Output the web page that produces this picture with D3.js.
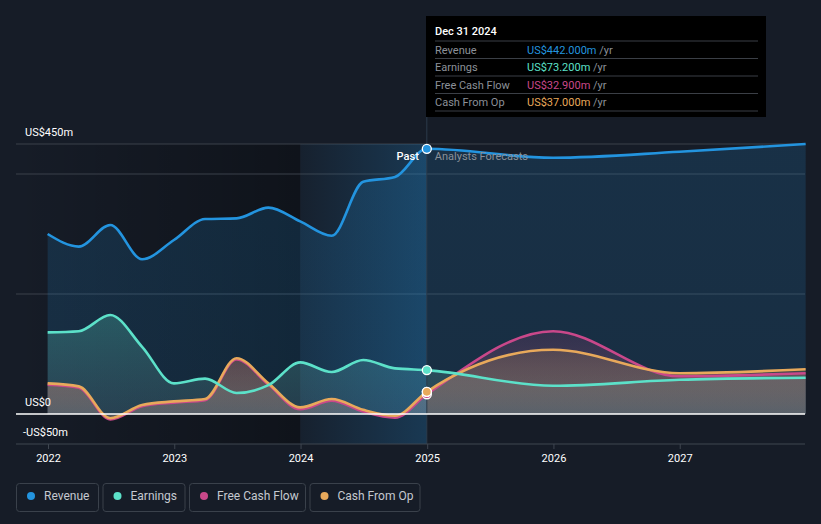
<!DOCTYPE html>
<html><head><meta charset="utf-8">
<script src="https://cdn.jsdelivr.net/npm/d3@7"></script>
<style>
html,body{margin:0;padding:0;background:#161c27;}
svg{display:block;font-family:Roboto,"Noto Sans",sans-serif;}
</style></head><body>
<svg id="c" width="821" height="524"></svg>
<script>
// ---- data ----
const pastDates = ["2021-12-31","2022-03-31","2022-06-30","2022-09-30","2022-12-31","2023-03-31","2023-06-30","2023-09-30","2023-12-31","2024-03-31","2024-06-30","2024-09-30","2024-12-31"];
const foreDates = ["2024-12-31","2025-12-31","2026-12-31","2027-12-31"];
const revenuePast  = [300,279,315,258,290,325,326,344,321,297,387,395,442];
const earningsPast = [136,138,165,112,51,59,35,48,86,70,90,76,73.2];
const fcfPast      = [49,44,-9,13,19,23,91,49,8,22,4,-6,32.9];
const cfoPast      = [51,46,-7,15,21,25,93,51,11,25,7,-3,37];
const revenueFore  = [442,427,437,450];
const earningsFore = [73.2,47,57,60.5];
const fcfFore      = [32.9,138,63,68];
const cfoFore      = [37,107,68,74.5];
const yearTicks = ["2022","2023","2024","2025","2026","2027"];
const gridValues = [200,400,450];
const yLabels = [{v:450,t:"US$450m"},{v:0,t:"US$0"},{v:-50,t:"-US$50m"}];
const seriesNames = ["Revenue","Earnings","Free Cash Flow","Cash From Op"];
const seriesColors = ["#2394df","#5ce1c9","#c9488a","#e8a95b"];
const tipValues = ["US$442.000m","US$73.200m","US$32.900m","US$37.000m"];
const tipDate = "Dec 31 2024";
const nowDate = "2024-12-31";

// ---- setup ----
const svg = d3.select("#c");
const parse = d3.timeParse("%Y-%m-%d");
const x = d3.scaleTime().domain([new Date(2022,0,1), new Date(2028,0,1)]).range([48,806]);
const y = d3.scaleLinear().domain([-50,450]).range([444,144]);
const L = 16, R = 805;
const xNow = x(parse(nowDate));

const mk = (dates, vals) => dates.map((d,i)=>({d:parse(d), v:vals[i]}));
const series = [
  {name:seriesNames[0], color:seriesColors[0], data: mk(pastDates,revenuePast).concat(mk(foreDates,revenueFore).slice(1))},
  {name:seriesNames[1], color:seriesColors[1], data: mk(pastDates,earningsPast).concat(mk(foreDates,earningsFore).slice(1))},
  {name:seriesNames[2], color:seriesColors[2], data: mk(pastDates,fcfPast).concat(mk(foreDates,fcfFore).slice(1))},
  {name:seriesNames[3], color:seriesColors[3], data: mk(pastDates,cfoPast).concat(mk(foreDates,cfoFore).slice(1))}
];

const defs = svg.append("defs");
const g1 = defs.append("linearGradient").attr("id","dark").attr("x1","0").attr("x2","1").attr("y1","0").attr("y2","0");
g1.append("stop").attr("offset","0").attr("stop-color","#000").attr("stop-opacity",0);
g1.append("stop").attr("offset","1").attr("stop-color","#000").attr("stop-opacity",0.32);
const g2 = defs.append("linearGradient").attr("id","band").attr("x1","0").attr("x2","1").attr("y1","0").attr("y2","0");
g2.append("stop").attr("offset","0").attr("stop-color","#2394df").attr("stop-opacity",0.04);
g2.append("stop").attr("offset","1").attr("stop-color","#2394df").attr("stop-opacity",0.24);
series.forEach((s,i)=>{
  const top = y(d3.max(s.data,d=>d.v));
  const gr = defs.append("linearGradient").attr("id","ag"+i).attr("gradientUnits","userSpaceOnUse")
    .attr("x1",0).attr("x2",0).attr("y1",top).attr("y2",y(0));
  if(i===0){
    gr.append("stop").attr("offset","0").attr("stop-color",s.color).attr("stop-opacity",0.17);
    gr.append("stop").attr("offset","1").attr("stop-color",s.color).attr("stop-opacity",0.15);
  } else if(i===1){
    gr.append("stop").attr("offset","0").attr("stop-color",s.color).attr("stop-opacity",0.25);
    gr.append("stop").attr("offset","1").attr("stop-color","#7aa6a8").attr("stop-opacity",0.18);
  } else {
    gr.append("stop").attr("offset","0").attr("stop-color",s.color).attr("stop-opacity",0.14);
    gr.append("stop").attr("offset","1").attr("stop-color","#6d6e74").attr("stop-opacity",0.45);
  }
});

// past shading
svg.append("rect").attr("x",L).attr("y",144).attr("width",300-L).attr("height",300).attr("fill","url(#dark)");

// grid
svg.selectAll(".grid").data(gridValues).enter().append("line")
  .attr("x1",L).attr("x2",R).attr("y1",d=>y(d)).attr("y2",d=>y(d))
  .attr("stroke","#3a414b").attr("stroke-width",1);

// areas
const area = d3.area().x(d=>x(d.d)).y0(y(0)).y1(d=>y(d.v)).curve(d3.curveMonotoneX);
const line = d3.line().x(d=>x(d.d)).y(d=>y(d.v)).curve(d3.curveMonotoneX);
series.forEach((s,i)=>{
  svg.append("path").attr("d",area(s.data)).attr("fill","url(#ag"+i+")");
});

// highlight band
svg.append("rect").attr("x",x(new Date(2024,0,1))).attr("y",144).attr("width",xNow-x(new Date(2024,0,1))).attr("height",300).attr("fill","url(#band)");

// hover line
svg.append("line").attr("x1",xNow).attr("x2",xNow).attr("y1",16).attr("y2",444).attr("stroke","#2c3b4b").attr("stroke-width",1);

// lines
[3,2,1,0].forEach(i=>{});
[2,3,1,0].forEach(i=>{
  const s = series[i];
  svg.append("path").attr("d",line(s.data)).attr("fill","none").attr("stroke",s.color).attr("stroke-width",2.6);
});

// zero line & bottom axis
svg.append("line").attr("x1",L).attr("x2",R).attr("y1",y(0)).attr("y2",y(0)).attr("stroke","#ffffff").attr("stroke-width",1.3);
const xAxis = d3.axisBottom(x).tickValues(yearTicks.map(t=>new Date(+t,0,1))).tickFormat(d3.timeFormat("%Y")).tickSize(5).tickSizeOuter(0);
const ax = svg.append("g").attr("transform","translate(0,444)").call(xAxis);
ax.select(".domain").remove();
ax.selectAll(".tick line").attr("stroke","#3f4650");
ax.selectAll(".tick text").attr("fill","#ffffff").attr("font-size",11).attr("dy","0.95em").attr("font-family","Roboto");
svg.append("line").attr("x1",L).attr("x2",R).attr("y1",444).attr("y2",444).attr("stroke","#3f4650").attr("stroke-width",1);

// y labels
svg.selectAll(".yl").data(yLabels).enter().append("text")
  .attr("x",d=>d.v<0?23:25).attr("y",d=>d.v===450?136:(d.v===0?406:436))
  .attr("fill","#ffffff").attr("font-size",11).text(d=>d.t);

// points
series.forEach((s,i)=>{
  const p = s.data.find(d=>+d.d===+parse(nowDate));
  svg.append("circle").attr("cx",x(p.d)).attr("cy",y(p.v)).attr("r",4.5)
    .attr("fill",s.color).attr("stroke","#ffffff").attr("stroke-width",1.3);
});
// redraw CFO on top
{
  const s = series[3]; const p = s.data.find(d=>+d.d===+parse(nowDate));
  svg.append("circle").attr("cx",x(p.d)).attr("cy",y(p.v)).attr("r",4.5).attr("fill",s.color).attr("stroke","#fff").attr("stroke-width",1.3);
}

// past / forecast labels
svg.append("text").attr("x",xNow-8).attr("y",160).attr("text-anchor","end").attr("fill","#ffffff").attr("font-size",11).attr("font-weight",500).text("Past");
svg.append("text").attr("x",xNow+8).attr("y",160).attr("fill","#8a9099").attr("font-size",11).text("Analysts Forecasts");

// tooltip
const tip = svg.append("g");
tip.append("rect").attr("x",426).attr("y",16).attr("width",340).attr("height",101).attr("fill","#000000");
tip.append("text").attr("x",435).attr("y",35).attr("fill","#ffffff").attr("font-size",11).attr("font-weight",500).text(tipDate);
const sepY = [41,58.5,76,93.5,111];
tip.selectAll(".sep").data(sepY).enter().append("line").attr("x1",435).attr("x2",758).attr("y1",d=>d).attr("y2",d=>d).attr("stroke","#3b3f46").attr("stroke-width",1);
seriesNames.forEach((n,i)=>{
  const by = 53.5 + i*17.5;
  tip.append("text").attr("x",435).attr("y",by).attr("fill","#8c9199").attr("font-size",11).text(n);
  const t = tip.append("text").attr("x",527).attr("y",by).attr("font-size",11);
  t.append("tspan").attr("fill",seriesColors[i]).text(tipValues[i]);
  t.append("tspan").attr("fill","#8c9199").text(" /yr");
});

// legend
const lg = svg.append("g");
let lx = 16;
const widths = [82,82,116,110];
seriesNames.forEach((n,i)=>{
  const w = widths[i];
  lg.append("rect").attr("x",lx+0.5).attr("y",483.5).attr("width",w).attr("height",28).attr("rx",3).attr("fill","none").attr("stroke","#3a414b");
  lg.append("circle").attr("cx",lx+15).attr("cy",496).attr("r",4).attr("fill",seriesColors[i]);
  lg.append("text").attr("x",lx+28).attr("y",500).attr("fill","#c5c9d0").attr("font-size",12).text(n);
  lx += w + 4.5;
});
</script>
</body></html>
